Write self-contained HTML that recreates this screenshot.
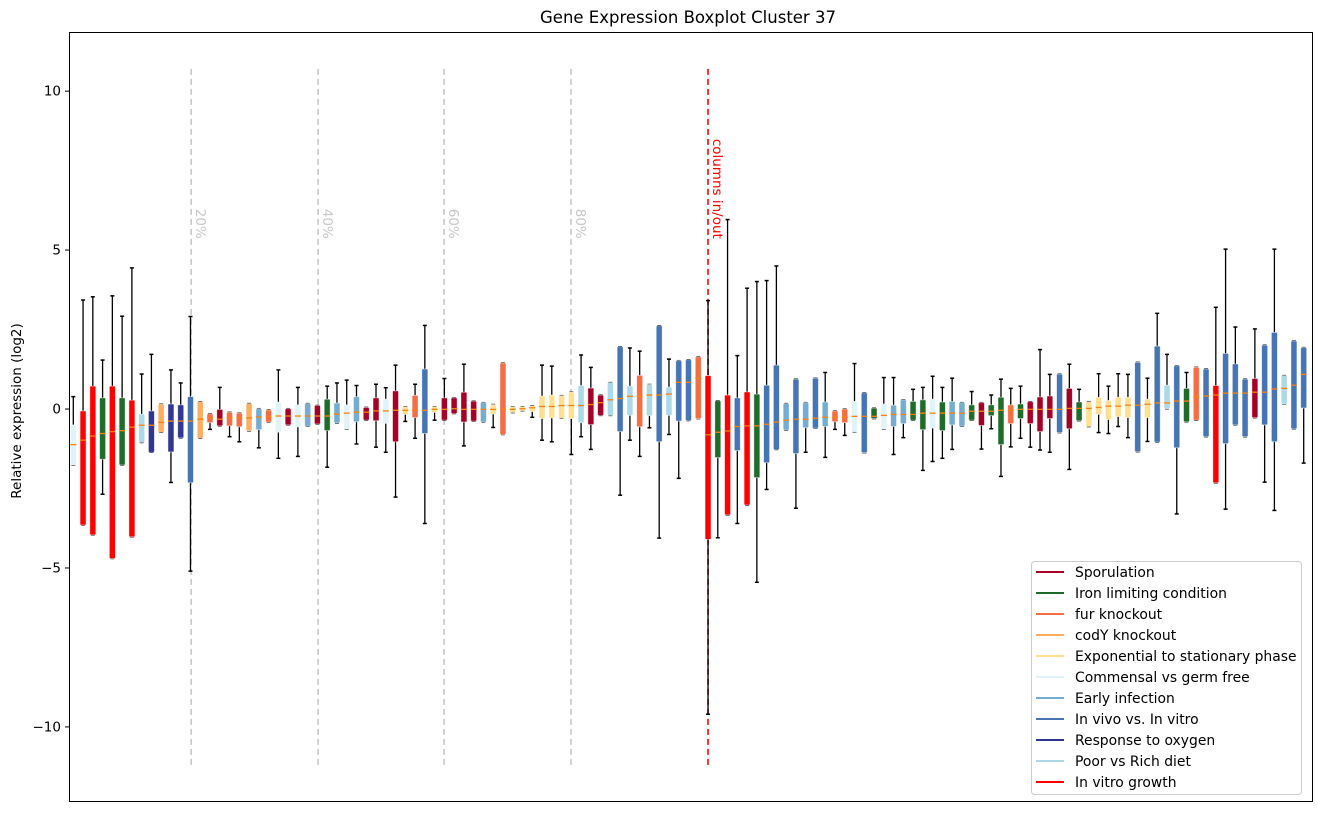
<!DOCTYPE html>
<html><head><meta charset="utf-8"><style>
body{margin:0;background:#fff;}
svg text{font-family:"DejaVu Sans","Liberation Sans",sans-serif;}
</style></head><body>
<svg id="chart" width="1318" height="812" xmlns="http://www.w3.org/2000/svg">
<rect width="1318" height="812" fill="#fff"/>
<text x="688" y="23" text-anchor="middle" font-size="16.5">Gene Expression Boxplot Cluster 37</text>
<text transform="translate(21,411) rotate(-90)" text-anchor="middle" font-size="13.5">Relative expression (log2)</text>
<g id="grid"></g><g id="boxes"></g><g id="yticks"></g>
<rect x="69.5" y="32.5" width="1243" height="769" fill="none" stroke="#000" stroke-width="1"/>
<g id="legend"></g>
</svg>
<script>
const categories=["Sporulation","Iron limiting condition","fur knockout","codY knockout","Exponential to stationary phase","Commensal vs germ free","Early infection","In vivo vs. In vitro","Response to oxygen","Poor vs Rich diet","In vitro growth"];
const catColors=["#a50026","#1f6b2a","#f46d43","#fdae61","#fee090","#e0f3f8","#74add1","#4575b4","#313695","#abd9e9","#ff0000"];
const boxCats="MRRIRIRPOCOOVCFSFFCAFMSMASIAMASSMSEFVESSSSAEFEEEEEEEPSSPVPFPVPVVFRIRVRIVVAVAVAFFMVIMAAIIMIAAISIIFISSSVSIEEEEEVEVPVIFVRVVVSVVPVV";
const whiHi=[.39,3.43,3.53,1.54,3.56,2.92,4.44,1.1,1.72,.15,1.23,.82,2.91,.23,-.15,.68,-.1,-.13,.17,.01,-.03,1.23,.01,.68,.17,.11,.72,.82,.91,.74,.05,.78,.67,1.38,.07,.78,2.63,.07,.96,.35,1.41,.25,.2,.14,1.45,.07,.07,.1,1.38,1.35,.42,.53,1.7,1.31,.44,.83,1.96,1.92,1.82,.77,2.62,1.57,1.52,1.55,1.64,3.41,.26,5.96,1.68,3.8,4.01,4.04,4.5,.17,.94,.2,.97,1.15,-.06,0,1.43,.51,.03,.99,.99,.29,.62,.68,1.03,.68,.97,.2,.55,.2,.44,.94,.65,.72,.23,1.87,1.09,1.1,1.41,.62,.23,1.11,.72,1.11,1.09,1.47,.97,3.01,1.72,1.36,1.15,1.31,1.26,3.2,5.03,2.58,.94,2.52,2.01,5.03,1.05,2.14,1.93];
const q3=[-.5,-.06,.72,.35,.72,.35,.28,-.16,-.06,.15,.16,.13,.39,.23,-.15,-.01,-.1,-.13,.17,.01,-.03,.22,.01,.13,.17,.11,.31,.19,.13,.39,.05,.35,.31,.57,.07,.43,1.26,.07,.35,.35,.53,.25,.2,.14,1.45,.07,.07,.1,.41,.44,.42,.53,.74,.66,.44,.83,1.96,.72,1.06,.77,2.62,.69,1.52,1.55,1.64,1.05,.26,.44,.35,.54,.47,.75,1.38,.17,.94,.2,.97,.22,-.06,0,.24,.51,.03,.16,.12,.29,.24,.29,.31,.22,.24,.2,.13,.2,.13,.37,.13,.16,.23,.38,.41,1.1,.65,.22,.23,.37,.27,.37,.37,1.47,.31,1.98,.75,1.36,.65,1.31,1.26,.74,1.75,1.42,.94,.96,2.01,2.41,1.05,2.14,1.93];
const medians=[-1.12,-.98,-.85,-.77,-.71,-.68,-.57,-.51,-.51,-.42,-.38,-.38,-.38,-.32,-.28,-.32,-.28,-.28,-.28,-.25,-.25,-.22,-.22,-.22,-.22,-.22,-.22,-.16,-.13,-.1,-.1,-.06,-.06,-.04,-.04,-.04,-.04,-.01,-.01,.01,-.01,-.01,-.01,-.01,-.01,-.01,.01,.04,.08,.08,.11,.11,.11,.14,.2,.29,.33,.4,.4,.44,.44,.47,.84,.84,.97,-.81,-.73,-.69,-.55,-.53,-.53,-.48,-.41,-.35,-.32,-.32,-.29,-.26,-.26,-.26,-.23,-.23,-.23,-.2,-.17,-.17,-.17,-.13,-.13,-.13,-.13,-.13,-.07,-.07,-.07,-.04,-.04,-.01,-.01,-.01,-.01,-.01,.02,.02,.02,.05,.09,.09,.12,.12,.15,.19,.19,.25,.25,.38,.41,.44,.5,.5,.5,.53,.53,.63,.65,.75,1.09];
const q1=[-1.76,-3.65,-3.96,-1.58,-4.7,-1.76,-4.02,-1.05,-1.36,-.73,-1.35,-.91,-2.32,-.92,-.43,-.53,-.53,-.56,-.69,-.65,-.41,-.73,-.5,-.56,-.54,-.47,-.68,-.44,-.63,-.4,-.35,-.37,-.45,-1.03,-.17,-.27,-.77,-.11,-.35,-.14,-.41,-.38,-.41,-.16,-.8,-.11,-.05,-.08,-.3,-.28,-.28,-.3,-.43,-.49,-.2,-.2,-.71,-.2,-.56,-.21,-1.03,-.2,-.38,-.36,-.3,-4.1,-1.53,-3.33,-1.31,-3.02,-2.16,-1.69,-1.27,-.66,-1.4,-.59,-.6,-.55,-.4,-.43,-.72,-1.37,-.3,-.63,-.55,-.46,-.35,-.65,-.6,-.68,-.5,-.54,-.35,-.52,-.21,-1.12,-.46,-.3,-.46,-.71,-.3,-.74,-.62,-.37,-.55,-.17,-.33,-.24,-.27,-1.34,-.27,-1.04,.01,-1.22,-.4,-.35,-.87,-2.32,-1.09,-.5,-.87,-.27,-.5,-1.03,.16,-.62,.03];
const whiLo=[-1.76,-3.65,-3.96,-2.68,-4.7,-1.76,-4.02,-1.05,-1.36,-.73,-2.31,-.91,-5.1,-.92,-.64,-.53,-.87,-1.03,-.69,-1.22,-.41,-1.55,-.5,-1.49,-.54,-.47,-1.83,-.44,-.63,-1.1,-.35,-1.2,-1.36,-2.77,-.39,-.92,-3.6,-.35,-.35,-.14,-1.16,-.38,-.41,-.58,-.8,-.11,-.05,-.26,-.98,-1.03,-.28,-1.43,-.87,-1.27,-.2,-.2,-2.71,-.98,-1.49,-.59,-4.06,-.8,-2.18,-.36,-.3,-9.6,-4.05,-3.33,-3.6,-3.02,-5.45,-2.53,-1.27,-.66,-3.12,-1.36,-.6,-1.52,-.64,-.83,-.72,-1.37,-.3,-.63,-1.43,-.9,-.35,-1.93,-1.65,-1.55,-1.27,-.54,-.35,-1.26,-.62,-2.12,-1.19,-.92,-1.2,-1.29,-1.36,-.74,-1.9,-.37,-.55,-.74,-.77,-.55,-.9,-1.34,-1.02,-1.04,.01,-3.3,-.4,-.35,-.87,-2.32,-3.15,-.5,-.87,-.27,-2.3,-3.19,.16,-.62,-1.7];
const yTicks=[10,5,0,-5,-10];
const pctLines=[13.07,26.07,38.97,51.97];
const pctLabels=["20%","40%","60%","80%"];
const splitPos=66;

const NS="http://www.w3.org/2000/svg";
const X0=69,X1=1312,Y0=32,Y1=801,XMIN=0.56,XMAX=127.85,YMIN=-12.33,YMAX=11.86;
function xs(p){return X0+(p-XMIN)/(XMAX-XMIN)*(X1-X0);}
function ys(v){return Y1-(v-YMIN)/(YMAX-YMIN)*(Y1-Y0);}
function mk(tag,attrs,parent){const e=document.createElementNS(NS,tag);for(const k in attrs)e.setAttribute(k,attrs[k]);parent.appendChild(e);return e;}
const grid=document.getElementById('grid'),boxes=document.getElementById('boxes'),yt=document.getElementById('yticks'),leg=document.getElementById('legend');
const catIdx={S:0,I:1,F:2,C:3,E:4,M:5,A:6,V:7,O:8,P:9,R:10};

pctLines.forEach((p,i)=>{
  const l=mk('line',{x1:xs(p),x2:xs(p),y1:ys(10.7),y2:ys(-11.2),stroke:'#c8c8c8','stroke-width':1.6,'stroke-dasharray':'6,4'},grid);
  
  
  const t=mk('text',{transform:`translate(${xs(p)+5},${ys(6.3)}) rotate(90)`,'font-size':13.5,fill:'#c8c8c8'},grid);
  t.textContent=pctLabels[i];
  
  
});
const sl=mk('line',{x1:xs(splitPos),x2:xs(splitPos),y1:ys(10.7),y2:ys(-11.2),stroke:'#ff0000','stroke-width':1.6,'stroke-dasharray':'6,4'},grid);


const st=mk('text',{transform:`translate(${xs(splitPos)+5},${ys(8.5)}) rotate(90)`,'font-size':13.5,fill:'#ff0000'},grid);
st.textContent='columns in/out';



for(let i=0;i<medians.length;i++){
  const cx=xs(i+1),col=catColors[catIdx[boxCats[i]]];
  const g=mk('g',{},boxes);
  
  
  mk('line',{x1:cx,x2:cx,y1:ys(whiHi[i]),y2:ys(whiLo[i]),stroke:'#000','stroke-width':1.3},g);
  mk('line',{x1:cx-2,x2:cx+2,y1:ys(whiHi[i]),y2:ys(whiHi[i]),stroke:'#000','stroke-width':1.5},g);
  mk('line',{x1:cx-2,x2:cx+2,y1:ys(whiLo[i]),y2:ys(whiLo[i]),stroke:'#000','stroke-width':1.5},g);
  const top=ys(q3[i]),bot=ys(q1[i]);
  mk('rect',{x:cx-3,y:top,width:6,height:Math.max(bot-top,1.5),rx:1,fill:col,stroke:'rgba(255,255,255,0.6)','stroke-width':0.8},g);
  mk('line',{x1:cx-3,x2:cx+3,y1:ys(medians[i]),y2:ys(medians[i]),stroke:'#ff7f0e','stroke-width':1.3},g);
}
yTicks.forEach(v=>{
  const y=ys(v);
  const l=mk('line',{x1:X0-4,x2:X0,y1:y,y2:y,stroke:'#000','stroke-width':1},yt);
  
  
  const t=mk('text',{x:X0-8,y:y+4.5,'text-anchor':'end','font-size':13.5},yt);
  t.textContent=v<0?'\u2212'+(-v):String(v);
  
  
});
const lb=mk('rect',{x:1031.5,y:561.5,width:270,height:233,rx:3,fill:'#fff','fill-opacity':0.85,stroke:'#ccc'},leg);


categories.forEach((c,i)=>{
  const y=572+i*21;
  const g=mk('g',{},leg);
  
  
  mk('line',{x1:1036,x2:1064,y1:y,y2:y,stroke:catColors[i],'stroke-width':2},g);
  const t=mk('text',{x:1075,y:y+5,'font-size':13.9},g);
  t.textContent=c;
});
</script>
</body></html>
